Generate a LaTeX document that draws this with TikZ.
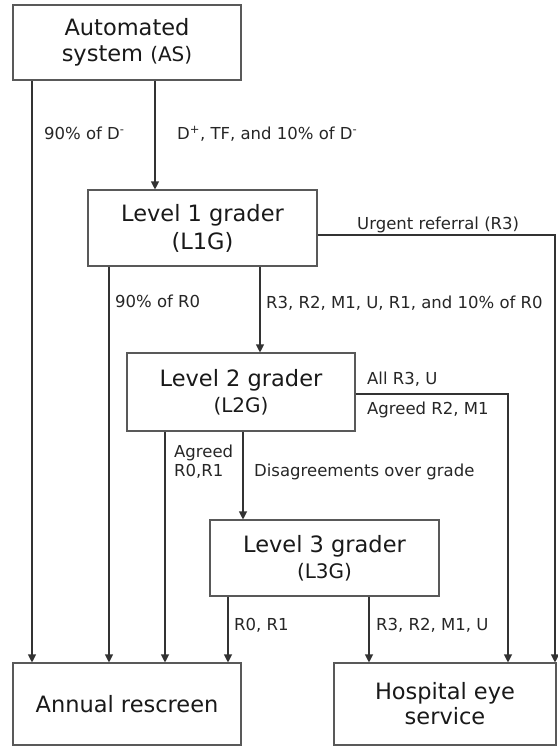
\documentclass[tikz,border=0pt]{standalone}
\usepackage{fontspec}
\setmainfont{DejaVu Sans}
\usetikzlibrary{arrows.meta}
\tikzset{
  box/.style={draw=black!65, line width=1.1pt, minimum width=#1, minimum height=76pt,
    align=center, inner sep=0pt, text=black!90, font=\fontsize{22.5}{26}\selectfont},
  arr/.style={draw=black!80, line width=1.1pt, -{Triangle[length=8pt,width=8pt]}},
  lbl/.style={anchor=base west, inner sep=0pt, align=left, text=black!85,
    font=\fontsize{16.5}{19}\selectfont}
}
\newcommand{\pname}[1]{{\fontsize{20}{24}\selectfont #1}}
\begin{document}
\begin{tikzpicture}[x=1pt,y=-1pt]
\useasboundingbox (0,0) rectangle (557,746);
\node[box=228pt, minimum height=75pt] (AS) at (127,42.5) {Automated\\system \pname{(AS)}};
\node[box=229pt, font=\fontsize{22.5}{28}\selectfont] (L1G) at (202.5,228) {Level 1 grader\\(L1G)};
\node[box=228pt, minimum height=78pt] (L2G) at (241,392) {Level 2 grader\\\pname{(L2G)}};
\node[box=229pt] (L3G) at (324.5,558) {Level 3 grader\\\pname{(L3G)}};
\node[box=228pt, minimum height=82pt] (Annual) at (127,704) {Annual rescreen};
\node[box=222pt, minimum height=82pt, font=\fontsize{22.5}{25}\selectfont] (Hosp) at (445,704) {Hospital eye\\service};
% into the annual rescreen
\foreach \x/\src in {32/AS,109/L1G,165/L2G,228/L3G}{
\draw[arr] (\src.south -| \x,0) -- (Annual.north -| \x,0);
}
\draw[arr] (AS.south -| 155,0) -- (L1G.north -| 155,0);
\draw[arr] (L1G.south -| 260,0) -- (L2G.north -| 260,0);
\draw[arr] (L2G.south -| 243,0) -- (L3G.north -| 243,0);
% into the hospital eye service
\draw[arr] (L3G.south -| 369,0) -- (Hosp.north -| 369,0);
\draw[arr] (L2G.east |- 0,394) -| (Hosp.north -| 508,0);
\draw[arr] (L1G.east |- 0,235) -| (Hosp.north -| 555,0);
\node[lbl] (l1) at (44,140) {90\% of D\textsuperscript{-}};
\node[lbl] (l2) at (177,140) {D\textsuperscript{+}, TF, and 10\% of D\textsuperscript{-}};
\node[lbl] (l3) at (357,229) {Urgent referral (R3)};
\node[lbl] (l4) at (115,307) {90\% of R0};
\node[lbl] (l5) at (266,308) {R3, R2, M1, U, R1, and 10\% of R0};
\node[lbl] (l6) at (367,384) {All R3, U};
\node[lbl] (l7) at (367,414) {Agreed R2, M1};
\node[lbl] (l8) at (174,476) {Agreed\\R0,R1};
\node[lbl] (l9) at (254,476) {Disagreements over grade};
\node[lbl] (l10) at (234,630) {R0, R1};
\node[lbl] (l11) at (376,630) {R3, R2, M1, U};
\end{tikzpicture}
\end{document}
